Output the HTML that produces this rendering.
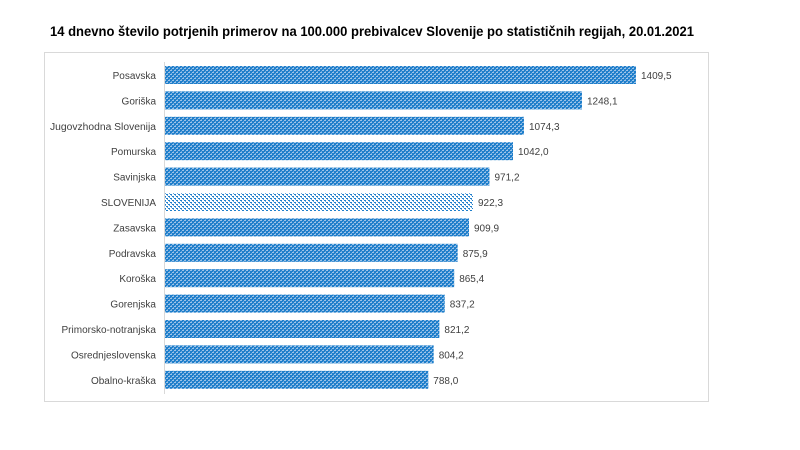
<!DOCTYPE html>
<html><head><meta charset="utf-8"><style>
body{margin:0;background:#fff;width:800px;height:450px;overflow:hidden}
svg{display:block}
text{font-family:"Liberation Sans",sans-serif}
</style></head><body>
<svg width="800" height="450" xmlns="http://www.w3.org/2000/svg">
<defs>
<pattern id="p1" width="4" height="4" patternUnits="userSpaceOnUse">
<rect width="4" height="4" fill="#1f7fcb"/>
<rect x="0" y="0" width="2" height="1" fill="#9cc3e8"/>
<rect x="2" y="2" width="2" height="1" fill="#9cc3e8"/>
<rect x="1" y="3" width="1" height="1" fill="#6ba7dc"/>
<rect x="3" y="1" width="1" height="1" fill="#6ba7dc"/>
</pattern>
<pattern id="p2" width="4" height="4" patternUnits="userSpaceOnUse">
<rect width="4" height="4" fill="#ffffff"/>
<rect x="0" y="0" width="2" height="1" fill="#1f7fcb"/>
<rect x="2" y="2" width="2" height="1" fill="#1f7fcb"/>
<rect x="1" y="1" width="1" height="1" fill="#6ba7dc"/>
<rect x="3" y="3" width="1" height="1" fill="#6ba7dc"/>
</pattern>
</defs>
<text x="50" y="36" font-size="13.5" font-weight="bold" fill="#000" textLength="644" lengthAdjust="spacingAndGlyphs">14  dnevno število potrjenih primerov na 100.000  prebivalcev Slovenije po statističnih regijah, 20.01.2021</text>
<rect x="44.5" y="52.5" width="664" height="349" fill="#fff" stroke="#d9d9d9"/>
<line x1="164.5" y1="62" x2="164.5" y2="394" stroke="#d9d9d9"/>
<g font-size="10" fill="#404040">
<g text-anchor="end">
<text x="156" y="79">Posavska</text>
<text x="156" y="104.4">Goriška</text>
<text x="156" y="129.8" textLength="106" lengthAdjust="spacingAndGlyphs">Jugovzhodna Slovenija</text>
<text x="156" y="155.2">Pomurska</text>
<text x="156" y="180.6">Savinjska</text>
<text x="156" y="206">SLOVENIJA</text>
<text x="156" y="231.4">Zasavska</text>
<text x="156" y="256.8">Podravska</text>
<text x="156" y="282.2">Koroška</text>
<text x="156" y="307.6">Gorenjska</text>
<text x="156" y="333">Primorsko-notranjska</text>
<text x="156" y="358.4">Osrednjeslovenska</text>
<text x="156" y="383.8">Obalno-kraška</text>
</g>
<rect x="165" y="66" width="471" height="18" fill="url(#p1)"/>
<rect x="165" y="91.4" width="417" height="18" fill="url(#p1)"/>
<rect x="165" y="116.8" width="359" height="18" fill="url(#p1)"/>
<rect x="165" y="142.2" width="348" height="18" fill="url(#p1)"/>
<rect x="165" y="167.6" width="324.5" height="18" fill="url(#p1)"/>
<rect x="165" y="193" width="308" height="18" fill="url(#p2)"/>
<rect x="165" y="218.4" width="304" height="18" fill="url(#p1)"/>
<rect x="165" y="243.8" width="292.7" height="18" fill="url(#p1)"/>
<rect x="165" y="269.2" width="289.2" height="18" fill="url(#p1)"/>
<rect x="165" y="294.6" width="279.7" height="18" fill="url(#p1)"/>
<rect x="165" y="320" width="274.4" height="18" fill="url(#p1)"/>
<rect x="165" y="345.4" width="268.7" height="18" fill="url(#p1)"/>
<rect x="165" y="370.8" width="263.3" height="18" fill="url(#p1)"/>
<text x="641" y="79">1409,5</text>
<text x="587" y="104.4">1248,1</text>
<text x="529" y="129.8">1074,3</text>
<text x="518" y="155.2">1042,0</text>
<text x="494.5" y="180.6">971,2</text>
<text x="478" y="206">922,3</text>
<text x="474" y="231.4">909,9</text>
<text x="462.7" y="256.8">875,9</text>
<text x="459.2" y="282.2">865,4</text>
<text x="449.7" y="307.6">837,2</text>
<text x="444.4" y="333">821,2</text>
<text x="438.7" y="358.4">804,2</text>
<text x="433.3" y="383.8">788,0</text>
</g>
</svg>
</body></html>
